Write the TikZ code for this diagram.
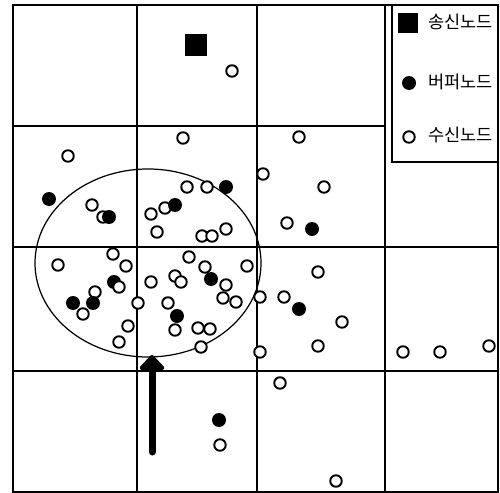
\documentclass[tikz,border=0pt]{standalone}
\usepackage{fontspec}
\newfontfamily\kr{Noto Sans CJK KR}
\usetikzlibrary{arrows.meta}

\begin{document}
\begin{tikzpicture}[x=0.02cm, y=-0.02cm,
		rxnode/.style={circle, draw, fill=white, line width=1.1pt, minimum size=0.23cm, inner sep=0pt},
		bufnode/.style={circle, fill=black, minimum size=0.28cm, inner sep=0pt},
		srcnode/.style={rectangle, fill=black, minimum size=0.43cm, inner sep=0pt},
		legtext/.style={anchor=west, inner sep=0pt, font=\kr\fontsize{10}{12}\selectfont}]
		\useasboundingbox (0,0) rectangle (500,493);
		
		% Draw the outer frame and the grid of cells
		\draw[line width=1.2pt] (13,5) rectangle (498,492);
		\draw[line width=1.1pt] (137,5) -- (137,492);
		\draw[line width=1.1pt] (257,5) -- (257,492);
		\draw[line width=1.1pt] (385,5) -- (385,492);
		\draw[line width=1.1pt] (13,126) -- (385,126);
		\draw[line width=1.1pt] (13,247) -- (498,247);
		\draw[line width=1.1pt] (13,371) -- (498,371);
		
		% Legend box in the top right cell
		\draw[line width=1.1pt] (392,5) rectangle (498,162);
		\node[srcnode, minimum size=0.4cm] (legsrc) at (408,23) {};
		\node[bufnode] (legbuf) at (409,83) {};
		\node[rxnode] (legrx) at (409,137) {};
		\node[legtext] (legsrctext) at (428,22) {송신노드};
		\node[legtext] (legbuftext) at (428,82) {버퍼노드};
		\node[legtext] (legrxtext) at (428,135) {수신노드};
		
		% Region covered by the source around the arrow
		\draw[line width=0.7pt] (148,263) ellipse (113 and 94);
		
		% Source node
		\node[srcnode] (src) at (196,45) {};
		
		% Receiving nodes
		\foreach \x/\y [count=\i] in {232/71, 183/138, 299/137, 68/156, 263/174, 92/205, 103/217,
			187/187, 207/187, 324/187, 165/208, 151/214, 157/232, 202/236, 212/236, 226/229,
			287/223, 58/265, 113/254, 126/266, 95/292, 83/314, 138/303, 128/326, 119/342,
			151/282, 175/276, 181/282, 189/257, 205/267, 226/285, 223/298, 236/302, 247/266,
			168/303, 175/330, 198/328, 210/329, 201/347, 318/272, 260/297, 284/297, 342/322,
			318/346, 260/352, 403/352, 440/352, 489/346, 280/383, 220/445, 336/481}
			\node[rxnode] (rx\i) at (\x,\y) {};
		
		% Buffer nodes
		\foreach \x/\y [count=\i] in {49/199, 109/217, 175/205, 226/187, 312/229, 114/282,
			73/303, 93/303, 211/279, 177/316, 299/309, 219/420}
			\node[bufnode] (buf\i) at (\x,\y) {};
		\node[rxnode] (rx52) at (119,287) {};
		
		% Arrow pointing into the region
		\coordinate (arrowtail) at (152,452);
		\coordinate (arrowtip) at (152,355);
		\draw[line width=0.14cm, line cap=round, -{Triangle[round, width=0.58cm, length=0.32cm]}] (arrowtail) -- (arrowtip);
		
	\end{tikzpicture}
\end{document}
